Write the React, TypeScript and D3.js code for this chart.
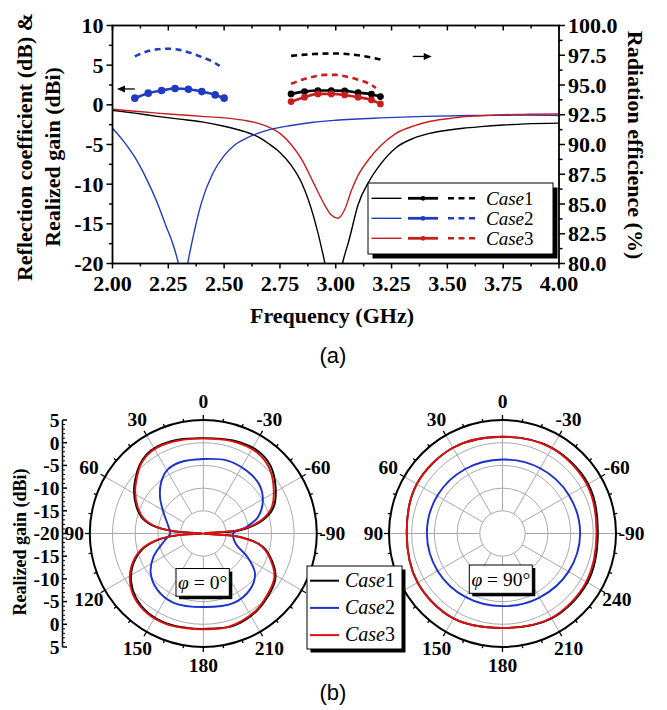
import { useEffect, useRef } from "react"
import * as d3 from "d3"

const serif = "'Liberation Serif', 'DejaVu Serif', serif"
const sans = "'Liberation Sans', Arial, Helvetica, sans-serif"

const cases = ["1", "2", "3"]
const lineColors = ["#000000", "#1f3cc0", "#c81e1e"]
const polarColors = ["#000000", "#1a30d0", "#e01010"]

// (a) reflection coefficient (dB) vs frequency (GHz)
const s11Case1 = [
    [2.0, -0.7], [2.1, -1.05], [2.2, -1.45], [2.3, -1.8], [2.4, -2.15], [2.5, -2.7], [2.55, -3.05],
    [2.6, -3.45], [2.65, -4.0], [2.7, -4.9], [2.75, -6.0], [2.8, -7.6], [2.85, -10.0], [2.9, -14.0],
    [2.95, -19.8], [2.99, -26], [3.03, -20], [3.06, -17], [3.1, -12.6], [3.15, -9.6], [3.2, -7.5],
    [3.27, -5.4], [3.35, -4.2], [3.42, -3.6], [3.5, -3.2], [3.57, -2.95], [3.65, -2.75], [3.75, -2.55],
    [3.85, -2.4], [4.0, -2.3],
]
const s11Case2 = [
    [2.0, -2.95], [2.05, -4.6], [2.1, -6.6], [2.15, -9.2], [2.2, -12.3], [2.24, -15.3], [2.27, -17.5],
    [2.3, -20.6], [2.315, -23], [2.33, -21], [2.345, -18.8], [2.37, -15.5], [2.4, -12.2], [2.45, -8.6],
    [2.5, -6.4], [2.55, -5.0], [2.6, -4.2], [2.65, -3.6], [2.7, -3.15], [2.8, -2.6], [2.9, -2.2],
    [3.0, -1.95], [3.2, -1.65], [3.4, -1.45], [3.6, -1.35], [3.8, -1.3], [4.0, -1.35],
]
const s11Case3 = [
    [2.0, -0.55], [2.1, -0.8], [2.2, -1.05], [2.3, -1.25], [2.4, -1.45], [2.5, -1.65], [2.55, -1.8],
    [2.6, -2.0], [2.65, -2.3], [2.7, -2.8], [2.75, -3.6], [2.8, -5.0], [2.85, -7.0], [2.9, -9.8],
    [2.95, -12.6], [2.98, -13.9], [3.01, -14.3], [3.04, -13.2], [3.07, -10.8], [3.1, -8.9], [3.15, -6.8],
    [3.2, -5.2], [3.27, -3.6], [3.35, -2.65], [3.42, -2.1], [3.5, -1.75], [3.57, -1.5], [3.65, -1.38],
    [3.72, -1.27], [3.85, -1.2], [4.0, -1.15],
]

// realized gain (dBi)
const gainCase1 = [[2.8, 1.38], [2.86, 1.67], [2.92, 1.8], [2.98, 1.8], [3.04, 1.76], [3.1, 1.54], [3.16, 1.34], [3.2, 1.04]]
const gainCase2 = [[2.1, 0.84], [2.16, 1.47], [2.22, 1.8], [2.28, 2.05], [2.34, 1.97], [2.4, 1.67], [2.46, 1.25], [2.5, 0.84]]
const gainCase3 = [[2.8, 0.41], [2.86, 0.96], [2.92, 1.38], [2.98, 1.38], [3.04, 1.25], [3.1, 0.96], [3.16, 0.62], [3.2, 0.12]]

// radiation efficiency (%)
const effCase1 = [[2.8, 97.45], [2.9, 97.6], [3.0, 97.65], [3.1, 97.5], [3.2, 97.15]]
const effCase2 = [[2.1, 97.4], [2.15, 97.8], [2.2, 98.0], [2.25, 98.05], [2.3, 97.95], [2.35, 97.7], [2.4, 97.35], [2.45, 96.95], [2.48, 96.6]]
const effCase3 = [[2.8, 95.1], [2.85, 95.45], [2.9, 95.7], [2.95, 95.85], [3.0, 95.85], [3.05, 95.7], [3.1, 95.45], [3.15, 95.1], [3.18, 94.75]]

const freqTicks = [2.0, 2.25, 2.5, 2.75, 3.0, 3.25, 3.5, 3.75, 4.0]
const leftTicks = [10, 5, 0, -5, -10, -15, -20]
const rightTicks = [100, 97.5, 95, 92.5, 90, 87.5, 85, 82.5, 80]

// (b) realized gain patterns: [angle in degrees, counter-clockwise from top, gain dBi]
const phi0Case1 = [
    [0, 1.0], [15, 1.4], [28, 1.7], [36, 1.4], [43, 0.6], [50, -0.6], [58, -2.0], [68, -4.1], [76, -6.2],
    [82, -9.3], [86, -13.8], [90, -22], [94, -14.2], [98, -9.9], [104.8, -6.0], [114.5, -2.9], [123.7, -0.9],
    [133.6, 0.5], [145.3, 1.3], [158.2, 1.4], [170, 1.1], [180, 1.0], [198, 1.4], [213.7, 0.8], [226.5, -0.2],
    [237.5, -1.2], [245, -2.8], [257.4, -6.5], [264.7, -11.9], [270, -22], [275, -11.9], [282.5, -6.6],
    [290.4, -3.5], [302, -1.2], [315, 1.0], [326.3, 1.8], [342.3, 1.5],
]
const phi0Case2 = [
    [0, -3.6], [18, -3.5], [29.4, -3.9], [39, -5.3], [50.2, -7.6], [63.4, -10.3], [79, -12.2], [90, -12.7],
    [100, -11.4], [115, -7.9], [127, -5.5], [140.6, -4.0], [156.8, -3.4], [180, -3.8], [203.2, -3.3],
    [219.5, -3.9], [232.3, -5.6], [242, -9.0], [252.5, -12.5], [270, -13.4], [278.6, -10.4], [286.8, -7.4],
    [299, -5.0], [311.4, -3.6], [325.6, -3.2], [342.3, -3.1],
]
const phi0Case3 = [
    [0, 0.9], [15, 1.2], [28, 1.5], [36, 1.2], [43, 0.4], [50, -0.9], [58, -2.3], [68, -4.4], [76, -6.5],
    [82, -9.6], [86, -14], [90, -22], [94, -14], [98, -9.6], [104.8, -5.7], [114.5, -2.6], [123.7, -0.6],
    [133.6, 0.8], [145.3, 1.5], [158.2, 1.55], [170, 1.2], [180, 1.1], [195, 1.3], [213.7, 0.6], [226.5, -0.5],
    [237.5, -1.5], [245, -3.1], [257.4, -6.8], [264.5, -12], [270, -22], [275.5, -12.3], [282.5, -7.1],
    [290.4, -4.0], [302, -1.7], [315, 0.5], [326.3, 1.4], [342.3, 1.3],
]
const phi90Case1 = [[0, 1.3], [30, 1.8], [60, 1.8], [90, 1.1], [120, 1.6], [150, 1.6], [180, 0.8], [210, 1.6], [240, 1.6], [270, 1.0], [300, 1.8], [330, 1.8]]
const phi90Case2 = [[0, -3.7], [30, -3.6], [60, -3.4], [90, -3.35], [120, -3.5], [150, -3.8], [180, -4.0], [210, -3.7], [240, -3.2], [270, -2.9], [300, -3.1], [330, -3.4]]
const phi90Case3 = [[0, 1.3], [30, 1.8], [60, 1.8], [90, 1.1], [120, 1.6], [150, 1.6], [180, 0.8], [210, 1.5], [240, 1.3], [270, 0.7], [300, 1.5], [330, 1.7]]

const angleLabels = [[0, "0"], [30, "30"], [60, "60"], [90, "90"], [120, "120"], [150, "150"], [180, "180"], [210, "210"], [240, "240"], [270, "-90"], [300, "-60"], [330, "-30"]]
const radialTicks = [5, 0, -5, -10, -15]
const gridRings = [-15, -10, -5, 0]

export default function App() {
    const ref = useRef(null)

    useEffect(() => {
        const svg = d3.select(ref.current)
        svg.selectAll("*").remove()

        drawTop(svg)
        // the shared legend covers the 240 label of the left plot and the 120 label of the right one
        drawPolar(svg, 203.3, 533.5, [phi0Case1, phi0Case2, phi0Case3], "0°", [-27.3, 35, 53.3, 27.7], true, 240)
        drawPolar(svg, 502.5, 533.5, [phi90Case1, phi90Case2, phi90Case3], "90°", [-33.2, 31.5, 63, 28.3], false, 120)

        // shared legend of (b)
        const lg = svg.append("g")
        lg.append("rect").attr("x", 310.5).attr("y", 569.5).attr("width", 95).attr("height", 83).attr("fill", "#000")
        lg.append("rect").attr("x", 307).attr("y", 566).attr("width", 95).attr("height", 83)
            .attr("fill", "#fff").attr("stroke", "#000").attr("stroke-width", 1)
        cases.forEach((c, i) => {
            const yy = 580.7 + i * 27.2
            lg.append("line").attr("x1", 310).attr("x2", 339).attr("y1", yy).attr("y2", yy)
                .attr("stroke", polarColors[i]).attr("stroke-width", 2)
            const t = lg.append("text").attr("x", 345).attr("y", yy + 6)
                .attr("font-family", serif).attr("font-size", 20)
            t.append("tspan").attr("font-style", "italic").text("Case")
            t.append("tspan").text(c)
        })

        svg.append("text").attr("x", 333).attr("y", 363).attr("text-anchor", "middle")
            .attr("font-family", sans).attr("font-size", 22).text("(a)")
        svg.append("text").attr("x", 333).attr("y", 700).attr("text-anchor", "middle")
            .attr("font-family", sans).attr("font-size", 22).text("(b)")
    }, [])

    return (
        <svg
            ref={ref}
            width={667}
            height={710}
            style={{ position: "absolute", left: 0, top: 0, background: "#fff" }}
        />
    )
}

function drawTop(svg) {
    const x = d3.scaleLinear().domain([2, 4]).range([112.5, 559])
    const yL = d3.scaleLinear().domain([-20, 10]).range([263.5, 25.5])
    const yR = d3.scaleLinear().domain([80, 100]).range([263.5, 25.5])
    const [x0, x1] = x.range()
    const [yb, yt] = yL.range()

    svg.append("defs").append("clipPath").attr("id", "clipA")
        .append("rect").attr("x", x0).attr("y", yt).attr("width", x1 - x0).attr("height", yb - yt)

    const plot = svg.append("g").attr("clip-path", "url(#clipA)")

    const lineL = d3.line().x(d => x(d[0])).y(d => yL(d[1])).curve(d3.curveMonotoneX)
    const lineR = d3.line().x(d => x(d[0])).y(d => yR(d[1])).curve(d3.curveMonotoneX)

    ;[s11Case1, s11Case2, s11Case3].forEach((s, i) => {
        plot.append("path").attr("d", lineL(s)).attr("fill", "none")
            .attr("stroke", lineColors[i]).attr("stroke-width", 1.4)
    })
    ;[effCase1, effCase2, effCase3].forEach((s, i) => {
        plot.append("path").attr("d", lineR(s)).attr("fill", "none")
            .attr("stroke", lineColors[i]).attr("stroke-width", 2.6).attr("stroke-dasharray", "6,4.5")
    })
    ;[gainCase1, gainCase2, gainCase3].forEach((s, i) => {
        plot.append("path").attr("d", lineL(s)).attr("fill", "none")
            .attr("stroke", lineColors[i]).attr("stroke-width", 2.6)
        plot.append("g").selectAll("circle").data(s).join("circle")
            .attr("cx", d => x(d[0])).attr("cy", d => yL(d[1]))
            .attr("r", i === 1 ? 3.8 : 3.4).attr("fill", lineColors[i])
    })

    // arrows pointing to the axes
    arrow(svg, x(2.1), x(2.02), yL(2.0))
    arrow(svg, x(3.345), x(3.43), yR(97.4))

    // frame
    svg.append("rect").attr("x", x0).attr("y", yt).attr("width", x1 - x0).attr("height", yb - yt)
        .attr("fill", "none").attr("stroke", "#000").attr("stroke-width", 1.8)

    const tick = (x1_, y1_, x2_, y2_) => svg.append("line")
        .attr("x1", x1_).attr("y1", y1_).attr("x2", x2_).attr("y2", y2_)
        .attr("stroke", "#000").attr("stroke-width", 1.5)
    const label = (tx, ty, txt, anchor) => svg.append("text")
        .attr("x", tx).attr("y", ty).attr("text-anchor", anchor)
        .attr("font-family", serif).attr("font-weight", "bold").attr("font-size", 22).text(txt)

    freqTicks.forEach((f, i) => {
        tick(x(f), yb, x(f), yb + 5)
        tick(x(f), yt, x(f), yt + 5)
        label(x(f), 291, d3.format(".2f")(f), "middle")
        if (i < freqTicks.length - 1) {
            const m = (f + freqTicks[i + 1]) / 2
            tick(x(m), yb, x(m), yb + 3)
            tick(x(m), yt, x(m), yt + 3)
        }
    })
    leftTicks.forEach((v, i) => {
        tick(x0 - 6, yL(v), x0, yL(v))
        label(x0 - 9, yL(v) + 7.5, String(v), "end")
        if (i < leftTicks.length - 1) {
            const m = (v + leftTicks[i + 1]) / 2
            tick(x0 - 3.5, yL(m), x0, yL(m))
        }
    })
    rightTicks.forEach((v, i) => {
        tick(x1, yR(v), x1 + 6, yR(v))
        label(x1 + 9, yR(v) + 7.5, d3.format(".1f")(v), "start")
        if (i < rightTicks.length - 1) {
            const m = (v + rightTicks[i + 1]) / 2
            tick(x1, yR(m), x1 + 3.5, yR(m))
        }
    })

    const title = (tx, ty, rot, txt) => svg.append("text")
        .attr("transform", `translate(${tx},${ty}) rotate(${rot})`)
        .attr("text-anchor", "middle")
        .attr("font-family", serif).attr("font-weight", "bold").attr("font-size", 22).text(txt)
    title(32, 147, -90, "Reflection coefficient (dB) &")
    title(60, 157, -90, "Realized gain (dBi)")
    title(628, 145, 90, "Radiation efficience (%)")
    title(332, 323, 0, "Frequency (GHz)")

    // legend
    const lg = svg.append("g")
    lg.append("rect").attr("x", 372.5).attr("y", 187.5).attr("width", 185).attr("height", 71).attr("fill", "#000")
    lg.append("rect").attr("x", 368).attr("y", 183).attr("width", 185).attr("height", 71)
        .attr("fill", "#fff").attr("stroke", "#000").attr("stroke-width", 1)
    cases.forEach((c, i) => {
        const yy = 198.3 + i * 20
        const col = lineColors[i]
        lg.append("line").attr("x1", 371.5).attr("x2", 401.5).attr("y1", yy).attr("y2", yy)
            .attr("stroke", col).attr("stroke-width", 1.4)
        lg.append("line").attr("x1", 408).attr("x2", 438).attr("y1", yy).attr("y2", yy)
            .attr("stroke", col).attr("stroke-width", 2.8)
        lg.append("circle").attr("cx", 423).attr("cy", yy).attr("r", 2.4).attr("fill", col)
        lg.append("line").attr("x1", 448).attr("x2", 478).attr("y1", yy).attr("y2", yy)
            .attr("stroke", col).attr("stroke-width", 2.6).attr("stroke-dasharray", "6,4.5")
        const t = lg.append("text").attr("x", 486).attr("y", yy + 7)
            .attr("font-family", serif).attr("font-size", 19)
        t.append("tspan").attr("font-style", "italic").text("Case")
        t.append("tspan").text(c)
    })
}

function arrow(svg, xFrom, xTo, y) {
    const dir = Math.sign(xTo - xFrom)
    svg.append("line").attr("x1", xFrom).attr("x2", xTo - dir * 5).attr("y1", y).attr("y2", y)
        .attr("stroke", "#000").attr("stroke-width", 1.3)
    svg.append("path")
        .attr("d", `M${xTo},${y} L${xTo - dir * 8},${y - 3.5} L${xTo - dir * 8},${y + 3.5} Z`)
        .attr("fill", "#000")
}

function drawPolar(svg, cx, cy, series, phiText, box, withAxis, hiddenLabel) {
    const R = 113.5
    const r = d3.scaleLinear().domain([-20, 5]).range([0, R]).clamp(true)
    const rad = a => (a * Math.PI) / 180
    const pos = (a, rr) => [-Math.sin(rad(a)) * rr, -Math.cos(rad(a)) * rr]
    const g = svg.append("g").attr("transform", `translate(${cx},${cy})`)

    gridRings.forEach(v => {
        g.append("circle").attr("r", r(v)).attr("fill", "none")
            .attr("stroke", "#aaaaaa").attr("stroke-width", 1)
    })
    angleLabels.forEach(([a]) => {
        const [xa, ya] = pos(a, r(-15))
        const [xb, yb] = pos(a, R)
        g.append("line").attr("x1", xa).attr("y1", ya).attr("x2", xb).attr("y2", yb)
            .attr("stroke", "#aaaaaa").attr("stroke-width", 1)
    })

    const radial = d3.lineRadial()
        .angle(d => -rad(d[0]))
        .radius(d => r(d[1]))
        .curve(d3.curveCatmullRomClosed.alpha(0.5))
    series.forEach((s, i) => {
        g.append("path").attr("d", radial(s)).attr("fill", "none")
            .attr("stroke", polarColors[i]).attr("stroke-width", 1.9)
    })

    g.append("circle").attr("r", R).attr("fill", "none").attr("stroke", "#000").attr("stroke-width", 2)
    d3.range(0, 360, 10).forEach(a => {
        const len = a % 30 === 0 ? 5 : 3
        const [xa, ya] = pos(a, R)
        const [xb, yb] = pos(a, R + len)
        g.append("line").attr("x1", xa).attr("y1", ya).attr("x2", xb).attr("y2", yb)
            .attr("stroke", "#000").attr("stroke-width", 1.3)
    })
    angleLabels.filter(([a]) => a !== hiddenLabel).forEach(([a, txt]) => {
        const lr = a % 180 === 90 ? 129 : 132
        const [lx, ly] = pos(a, lr)
        g.append("text").attr("x", lx).attr("y", ly).attr("dy", "0.35em").attr("text-anchor", "middle")
            .attr("font-family", serif).attr("font-weight", "bold").attr("font-size", 19.5).text(txt)
    })

    // phi box
    const [bx, by, bw, bh] = box
    g.append("rect").attr("x", bx + 3).attr("y", by + 3).attr("width", bw).attr("height", bh).attr("fill", "#000")
    g.append("rect").attr("x", bx).attr("y", by).attr("width", bw).attr("height", bh)
        .attr("fill", "#fff").attr("stroke", "#000").attr("stroke-width", 1)
    const pt = g.append("text").attr("x", bx + bw / 2).attr("y", by + bh / 2 + 6.5).attr("text-anchor", "middle")
        .attr("font-family", serif).attr("font-size", 19.5)
    pt.append("tspan").attr("font-style", "italic").text("φ")
    pt.append("tspan").text(" = " + phiText)

    if (withAxis) {
        const ax = 62.5
        svg.append("line").attr("x1", ax).attr("x2", ax).attr("y1", cy - R).attr("y2", cy + R)
            .attr("stroke", "#000").attr("stroke-width", 1.5)
        d3.range(-19, 5).filter(v => v % 5 !== 0).forEach(v => {
            ;[-1, 1].forEach(s => {
                svg.append("line").attr("x1", ax).attr("x2", ax + 2.5)
                    .attr("y1", cy + s * r(v)).attr("y2", cy + s * r(v))
                    .attr("stroke", "#000").attr("stroke-width", 1)
            })
        })
        const axLabel = (v, yy) => {
            svg.append("line").attr("x1", ax).attr("x2", ax + 4.5).attr("y1", yy).attr("y2", yy)
                .attr("stroke", "#000").attr("stroke-width", 1.5)
            svg.append("text").attr("x", ax - 3).attr("y", yy).attr("dy", "0.35em").attr("text-anchor", "end")
                .attr("font-family", serif).attr("font-weight", "bold").attr("font-size", 19.5).text(String(v))
        }
        radialTicks.forEach(v => {
            axLabel(v, cy - r(v))
            axLabel(v, cy + r(v))
        })
        axLabel(-20, cy)
        svg.append("text").attr("transform", `translate(26,542) rotate(-90)`).attr("text-anchor", "middle")
            .attr("font-family", serif).attr("font-weight", "bold").attr("font-size", 18).text("Realized gain (dBi)")
    }
}
